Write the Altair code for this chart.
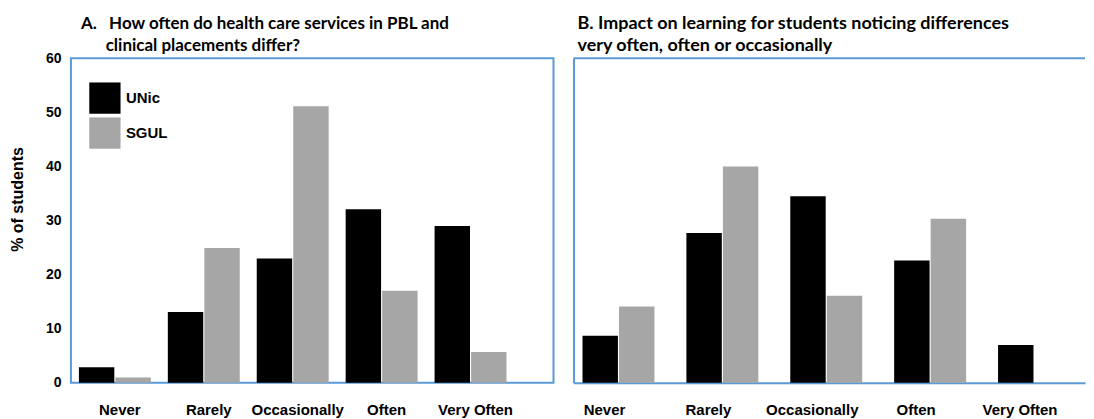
import altair as alt
import pandas as pd

categories = ["Never", "Rarely", "Occasionally", "Often", "Very Often"]
groups = ["UNic", "SGUL"]

a_unic = [2.9, 13.1, 23.0, 32.1, 29.0]
a_sgul = [1.0, 24.9, 51.1, 17.0, 5.7]

b_unic = [8.7, 27.7, 34.5, 22.6, 7.0]
b_sgul = [14.1, 40.0, 16.1, 30.3, 0.0]

y_ticks = [0, 10, 20, 30, 40, 50, 60]

title_a = ["A.\u00a0\u00a0\u00a0How often do health care services in PBL and",
           "\u200b" + "\u00a0" * 6 + "clinical placements differ?"]
title_b = ["B. Impact on learning for students noticing differences",
           "very often, often or occasionally"]


def make_df(unic, sgul):
    rows = []
    for c, u, s in zip(categories, unic, sgul):
        rows.append({"cat": c, "grp": "UNic", "val": u})
        rows.append({"cat": c, "grp": "SGUL", "val": s})
    return pd.DataFrame(rows)


dfA = make_df(a_unic, a_sgul)
dfB = make_df(b_unic, b_sgul)

BLUE = "#5B9BD5"
AXFONT = "Liberation Sans"
TFONT = "Lato"
color_scale = alt.Scale(domain=groups, range=["#000000", "#A6A6A6"])
y_scale = alt.Scale(domain=[0, 60], nice=False)

WA, WB, H = 483, 512, 325

barsA = alt.Chart(dfA).mark_bar().encode(
    x=alt.X("cat:N", sort=categories,
            scale=alt.Scale(paddingInner=0.191, paddingOuter=0.309, align=0.145),
            axis=alt.Axis(title=None, labelAngle=0, domain=False, ticks=False,
                          labelPadding=20, labelFontSize=15, labelFontWeight="bold",
                          labelFont=AXFONT, labelColor="black", labelOffset=5)),
    xOffset=alt.XOffset("grp:N", sort=groups, scale=alt.Scale(paddingInner=0.03)),
    y=alt.Y("val:Q", scale=y_scale,
            axis=alt.Axis(title="% of students", values=y_ticks, grid=False,
                          domain=False, ticks=False, labelPadding=10,
                          labelFontSize=14, labelFontWeight="bold", labelFont=AXFONT,
                          labelColor="black", titleFont=AXFONT, titleFontSize=16,
                          titleFontWeight="bold", titleColor="black",
                          titlePadding=20, titleY=141)),
    color=alt.Color("grp:N", sort=groups, scale=color_scale,
                    legend=alt.Legend(title=None, orient="none", legendX=18, legendY=24,
                                      symbolType="square", symbolSize=980,
                                      symbolStrokeWidth=0, rowPadding=3,
                                      labelFont=AXFONT, labelFontSize=15,
                                      labelFontWeight="bold", labelColor="black",
                                      labelOffset=5, padding=0)),
).properties(
    width=WA, height=H,
    title=alt.TitleParams(title_a, anchor="start", frame="group", font=TFONT,
                          fontSize=17, fontWeight="bold", color="black",
                          lineHeight=22, dx=10, offset=-4),
    view=alt.ViewBackground(stroke=BLUE, strokeWidth=2),
)

barsB = alt.Chart(dfB).mark_bar().encode(
    x=alt.X("cat:N", sort=categories,
            scale=alt.Scale(paddingInner=0.192, paddingOuter=0.058, align=0.75),
            axis=alt.Axis(title=None, labelAngle=0, domain=True, domainColor=BLUE,
                          domainWidth=2, ticks=False, labelPadding=20,
                          labelFontSize=15, labelFontWeight="bold", labelFont=AXFONT,
                          labelColor="black", labelOffset=-20)),
    xOffset=alt.XOffset("grp:N", sort=groups, scale=alt.Scale(paddingInner=0.03)),
    y=alt.Y("val:Q", scale=y_scale,
            axis=alt.Axis(title=None, values=y_ticks, grid=False, labels=False,
                          ticks=False, domain=True, domainColor=BLUE, domainWidth=2)),
    color=alt.Color("grp:N", sort=groups, scale=color_scale, legend=None),
)

topB = alt.Chart(pd.DataFrame({"k": [0]})).mark_rule(color=BLUE, strokeWidth=2).encode(
    x=alt.value(0), x2=alt.value(WB), y=alt.value(0)
)

panelB = alt.layer(barsB, topB).properties(
    width=WB, height=H,
    title=alt.TitleParams(title_b, anchor="start", frame="group", font=TFONT,
                          fontSize=18, fontWeight="bold", color="black",
                          lineHeight=22, dx=4, offset=2),
    view=alt.ViewBackground(stroke=None),
)

chart = alt.hconcat(barsA, panelB, spacing=18).resolve_scale(
    color="independent"
).properties(
    padding={"left": 0, "top": 6, "right": 0, "bottom": 0},
).configure_view(stroke=None)

chart.save("out.html", embed_options={"renderer": "svg", "actions": False})
